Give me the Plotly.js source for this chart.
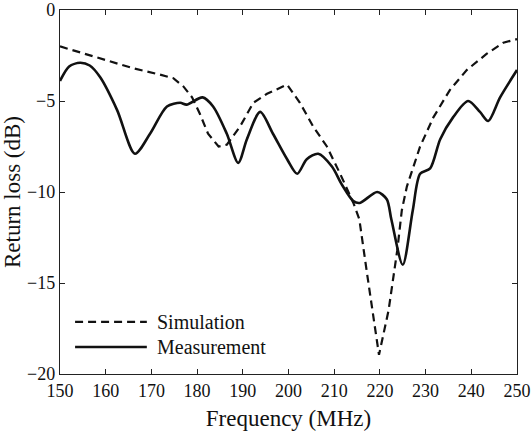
<!DOCTYPE html>
<html>
<head>
<meta charset="utf-8">
<script src="https://cdn.plot.ly/plotly-3.0.1.min.js"></script>
<style>html,body{margin:0;padding:0;background:#fff;}#chart{width:532px;height:434px;}</style>
</head>
<body>
<div id="chart"></div>
<script>
// Simulation (dashed)
const simFreq = [150, 158.8, 166, 171.9, 174.8, 177, 178.9, 180.6, 182.4, 184.7, 186.5, 189.4, 192.3, 195.3, 199.7, 202.5, 205.4, 208.4, 211.3, 214.2, 215.5, 217.2, 219.8, 221.9, 223.8, 224.8, 225.9, 228.8, 231.7, 235.3, 239, 243.4, 247, 250];
const simLoss = [-2.0, -2.65, -3.2, -3.55, -3.75, -4.2, -4.8, -5.7, -6.8, -7.5, -7.4, -6.4, -5.1, -4.6, -4.1, -5.1, -6.4, -7.5, -9.0, -10.6, -11.5, -14.5, -18.95, -16.5, -13.2, -11.0, -9.7, -7.5, -5.9, -4.4, -3.3, -2.4, -1.8, -1.6];
// Measurement (solid)
const measFreq = [150, 152, 154.4, 156.5, 158.8, 162.5, 166.4, 169.7, 173.4, 176.3, 177.7, 181.2, 183.5, 186.5, 189, 190.9, 193.8, 196.6, 199.7, 201.9, 204, 206.5, 209.5, 211.7, 214.2, 215.6, 219.4, 221.5, 222.5, 225, 227.2, 228.8, 231, 233.2, 236, 239.3, 241.9, 243.7, 246.3, 250];
const measLoss = [-3.9, -3.1, -2.9, -3.05, -3.7, -5.5, -7.9, -6.8, -5.3, -5.1, -5.2, -4.8, -5.3, -6.8, -8.4, -7.1, -5.6, -6.8, -8.2, -9.0, -8.2, -7.9, -8.6, -9.6, -10.5, -10.6, -10.0, -10.4, -11.5, -14.0, -11.0, -9.0, -8.7, -7.1, -5.9, -5.0, -5.6, -6.1, -4.8, -3.3];
const xTicks = [150, 160, 170, 180, 190, 200, 210, 220, 230, 240, 250];
const yTicks = [0, -5, -10, -15, -20];
const legendNames = ["Simulation", "Measurement"];

const font = "Liberation Serif";
const traces = [
  {x: simFreq, y: simLoss, mode: "lines", name: legendNames[0], line: {color: "#111", width: 2.2, dash: "8px,5px"}, showlegend: false},
  {x: measFreq, y: measLoss, mode: "lines", name: legendNames[1], line: {color: "#111", width: 2.6, shape: "spline", smoothing: 0.8}, showlegend: false}
];
const layout = {
  width: 532, height: 434,
  margin: {l: 60, r: 15, t: 10, b: 60},
  paper_bgcolor: "#fff", plot_bgcolor: "#fff",
  font: {family: font, size: 18, color: "#111"},
  xaxis: {range: [150, 250], tickvals: xTicks, ticks: "inside", ticklen: 5, tickcolor: "#222",
    showgrid: false, zeroline: false, showline: true, linecolor: "#222", linewidth: 1.2, mirror: "ticks",
    title: {text: "Frequency (MHz)", font: {family: font, size: 23}, standoff: 10}, tickfont: {family: font, size: 18}},
  yaxis: {range: [-20, 0], tickvals: yTicks, ticks: "inside", ticklen: 5, tickcolor: "#222",
    showgrid: false, zeroline: false, showline: true, linecolor: "#222", linewidth: 1.2, mirror: "ticks",
    title: {text: "Return loss (dB)", font: {family: font, size: 23}, standoff: 4}, tickfont: {family: font, size: 18}},
  shapes: [
    {type: "line", xref: "paper", yref: "paper", x0: 0.033, x1: 0.19, y0: 0.143, y1: 0.143, line: {color: "#111", width: 2.2, dash: "8px,5px"}},
    {type: "line", xref: "paper", yref: "paper", x0: 0.033, x1: 0.19, y0: 0.074, y1: 0.074, line: {color: "#111", width: 2.6}}
  ],
  annotations: [
    {xref: "paper", yref: "paper", x: 0.208, y: 0.143, text: legendNames[0], showarrow: false, xanchor: "left", yanchor: "middle", font: {family: font, size: 20}},
    {xref: "paper", yref: "paper", x: 0.208, y: 0.074, text: legendNames[1], showarrow: false, xanchor: "left", yanchor: "middle", font: {family: font, size: 20}}
  ]
};
Plotly.newPlot("chart", traces, layout, {displayModeBar: false, staticPlot: true});
</script>
</body>
</html>
